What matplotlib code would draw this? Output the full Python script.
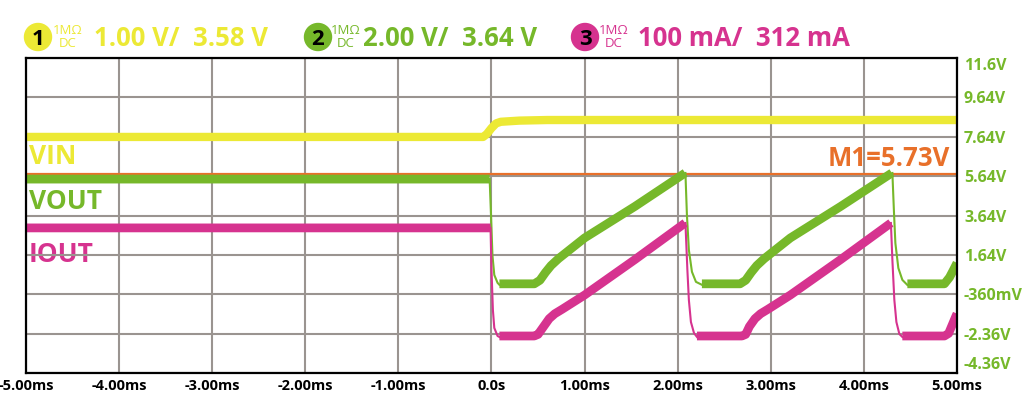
import matplotlib
matplotlib.use("Agg")
import matplotlib.pyplot as plt
from matplotlib.patches import Ellipse
import numpy as np

plt.rcParams["font.family"] = ["Open Sans", "DejaVu Sans"]

nan = np.nan
W, H = 1031, 416

# colours
c_vin = "#ECE935"
c_vout = "#76B82A"
c_iout = "#D6338F"
c_m1 = "#E8702A"
c_grid = "#9A9490"

# axis ticks
x_ticks = [-5, -4, -3, -2, -1, 0, 1, 2, 3, 4, 5]
x_labels = ["-5.00ms", "-4.00ms", "-3.00ms", "-2.00ms", "-1.00ms", "0.0s",
            "1.00ms", "2.00ms", "3.00ms", "4.00ms", "5.00ms"]
y_ticks = [-4.36, -2.36, -0.36, 1.64, 3.64, 5.64, 7.64, 9.64, 11.64]
y_labels = ["-4.36V", "-2.36V", "-360mV", "1.64V", "3.64V", "5.64V",
            "7.64V", "9.64V", "11.6V"]

# VIN (ch1), screen volts
vin_t = [-5.0, -0.09, -0.05, 0.0, 0.05, 0.1, 0.3, 0.6, 5.0]
vin_v = [7.63, 7.63, 7.78, 8.08, 8.32, 8.40, 8.46, 8.49, 8.49]

# VOUT (ch2) thick parts
vout_t = [-5.0, -0.02, nan,
          0.085, 0.46, 0.52, 0.58, 0.64, 0.72, 1.0, 1.54, 2.08, nan,
          2.26, 2.67, 2.73, 2.79, 2.85, 2.93, 3.21, 3.75, 4.30, nan,
          4.467, 4.865, 4.92, 4.97, 5.0]
vout_v = [5.49, 5.49, nan,
          0.17, 0.17, 0.35, 0.75, 1.1, 1.45, 2.5, 4.1, 5.8, nan,
          0.17, 0.17, 0.35, 0.75, 1.1, 1.45, 2.5, 4.1, 5.8, nan,
          0.17, 0.17, 0.5, 0.95, 1.23]
# VOUT falling edges (thin)
vout_edge_t = [-0.02, -0.005, 0.01, 0.03, 0.065, 0.085, nan,
               2.083, 2.099, 2.120, 2.153, 2.196, 2.26, nan,
               4.306, 4.322, 4.338, 4.370, 4.413, 4.467]
vout_edge_v = [5.49, 3.66, 1.63, 0.62, 0.22, 0.12, nan,
               5.80, 3.67, 1.89, 0.78, 0.27, 0.12, nan,
               5.80, 3.92, 2.24, 0.97, 0.37, 0.11]

# IOUT (ch3) thick parts
iout_t = [-5.0, -0.01, nan,
          0.085, 0.46, 0.50, 0.56, 0.62, 0.68, 0.76, 1.0, 1.54, 2.08, nan,
          2.207, 2.69, 2.73, 2.77, 2.83, 2.89, 2.97, 3.21, 3.75, 4.29, nan,
          4.413, 4.865, 4.91, 4.95, 4.99, 5.0]
iout_v = [3.01, 3.01, nan,
          -2.48, -2.48, -2.40, -2.0, -1.6, -1.35, -1.12, -0.4, 1.4, 3.26, nan,
          -2.48, -2.48, -2.40, -2.0, -1.6, -1.35, -1.12, -0.4, 1.4, 3.26, nan,
          -2.48, -2.48, -2.35, -1.9, -1.45, -1.35]
iout_edge_t = [-0.01, 0.0, 0.015, 0.03, 0.065, 0.085, nan,
               2.083, 2.104, 2.120, 2.142, 2.175, 2.207, nan,
               4.290, 4.306, 4.327, 4.349, 4.381, 4.413]
iout_edge_v = [3.01, 0.87, -1.16, -2.07, -2.48, -2.53, nan,
               3.26, 0.87, -0.65, -1.77, -2.33, -2.53, nan,
               3.26, 1.38, -0.65, -1.77, -2.38, -2.53]

m1_level = 5.73

# header: channel number, colour, scale text, pixel x of circle / 1MΩ / value
header_nums = ["1", "2", "3"]
header_cols = [c_vin, c_vout, c_iout]
header_vals = ["1.00 V/  3.58 V", "2.00 V/  3.64 V", "100 mA/  312 mA"]
header_x = [38, 318, 585]
header_imp_x = [68, 346, 614]
header_val_x = [94, 363, 638]

# %% figure
fig = plt.figure(figsize=(W / 100, H / 100), dpi=100)
ax = fig.add_axes([26 / W, 1 - 373 / H, (957 - 26) / W, (373 - 58) / H])

ax.set_xlim(-5, 5)
ax.set_ylim(-4.36, 11.64)
ax.set_xticks(x_ticks)
ax.set_xticklabels(x_labels, fontsize=10.5, fontweight="bold")
ax.set_yticks(y_ticks)
ax.set_yticklabels(y_labels, fontsize=11.5, fontweight="bold", color=c_vout)
ax.yaxis.tick_right()
ax.tick_params(axis="both", length=0)
ax.tick_params(axis="x", pad=4)
ax.tick_params(axis="y", pad=5)
lbls = ax.get_yticklabels()
lbls[0].set_va("bottom")
lbls[-1].set_va("top")

ax.set_axisbelow(False)
ax.grid(True, color=c_grid, lw=1.5, zorder=2.5)
for s in ax.spines.values():
    s.set_color("black")
    s.set_linewidth(1.6)
    s.set_zorder(5)

# labels (under grid)
ax.text(-4.97, 6.26, "VIN", color=c_vin, fontsize=19, fontweight="bold", zorder=2)
ax.text(-4.97, 3.97, "VOUT", color=c_vout, fontsize=19, fontweight="bold", zorder=2)
ax.text(-4.97, 1.28, "IOUT", color=c_iout, fontsize=19, fontweight="bold", zorder=2)

# marker
ax.axhline(m1_level, color=c_m1, lw=1.6, zorder=3)
ax.text(4.93, 6.16, "M1=%.2fV" % m1_level, color=c_m1, fontsize=18.5,
        fontweight="bold", ha="right", zorder=3)

# traces
ax.plot(vin_t, vin_v, color=c_vin, lw=6, solid_capstyle="butt", zorder=4)
ax.plot(vout_edge_t, vout_edge_v, color=c_vout, lw=1.5, zorder=4)
ax.plot(vout_t, vout_v, color=c_vout, lw=6.3, solid_capstyle="butt", zorder=4)
ax.plot(iout_edge_t, iout_edge_v, color=c_iout, lw=1.5, zorder=4)
ax.plot(iout_t, iout_v, color=c_iout, lw=6.3, solid_capstyle="butt", zorder=4)

# header
def fx(x):
    return x / W

def fy(y):
    return 1 - y / H

for num, col, val, cx, ix, vx in zip(header_nums, header_cols, header_vals,
                                     header_x, header_imp_x, header_val_x):
    fig.patches.append(Ellipse((fx(cx), fy(37)), 27 / W, 27 / H, color=col,
                               transform=fig.transFigure))
    fig.text(fx(cx), fy(45), num, color="black", fontsize=16, fontweight="bold",
             ha="center", va="baseline")
    fig.text(fx(ix), fy(34), "1MΩ", color=col, fontsize=9.5, ha="center",
             va="baseline")
    fig.text(fx(ix), fy(47), "DC", color=col, fontsize=9.5, ha="center",
             va="baseline")
    fig.text(fx(vx), fy(46), val, color=col, fontsize=18.5, fontweight="bold",
             ha="left", va="baseline")

fig.savefig("out.png", dpi=100)
